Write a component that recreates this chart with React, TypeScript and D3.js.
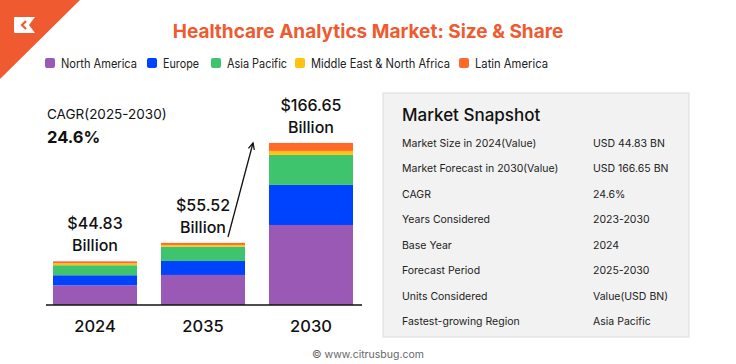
import * as d3 from 'd3';
import React, { useEffect, useRef } from 'react';

const years = ['2024', '2035', '2030'];
const regions = ['North America', 'Europe', 'Asia Pacific', 'Middle East & North Africa', 'Latin America'];
const colors = ['#9b59b6', '#0043ff', '#3ec46d', '#ffc20e', '#ff6a2b'];
// segment values per year, same order as regions (USD BN)
const northAmerica = [20.3, 30.9, 82.3];
const europe = [10.3, 14.4, 41.2];
const asiaPacific = [10.3, 14.7, 30.9];
const mena = [2.0, 1.8, 4.1];
const latinAmerica = [2.0, 2.1, 8.2];
const totalLabels = ['$44.83', '$55.52', '$166.65'];

const snapshotLabels = [
  'Market Size in 2024(Value)', 'Market Forecast in 2030(Value)', 'CAGR', 'Years Considered',
  'Base Year', 'Forecast Period', 'Units Considered', 'Fastest-growing Region',
];
const snapshotValues = [
  'USD 44.83 BN', 'USD 166.65 BN', '24.6%', '2023-2030', '2024', '2025-2030', 'Value(USD BN)', 'Asia Pacific',
];

const FONT = 'Inter, "Noto Sans", sans-serif';

function App() {
  const ref = useRef<SVGSVGElement>(null);

  useEffect(() => {
    const svg = d3.select(ref.current);
    svg.selectAll('*').remove();
    svg.style('font-family', FONT);

    const width = 736;
    const height = 364;

    svg.append('rect').attr('width', width).attr('height', height).attr('fill', '#fff');

    // corner logo
    svg.append('path').attr('d', 'M0,0 L80,0 L0,79 Z').attr('fill', '#f05a30');
    svg.append('path')
      .attr('d', 'M15,17 L35,17 L29,25 L35,33 L15,33 Q14,33 14,32 L14,18 Q14,17 15,17 Z')
      .attr('fill', '#fff');
    svg.append('path').attr('d', 'M26,21 L22,25 L26,29').attr('fill', 'none')
      .attr('stroke', '#f05a30').attr('stroke-width', 2.2);

    svg.append('text')
      .attr('x', 368).attr('y', 37.5).attr('text-anchor', 'middle')
      .attr('font-size', 19).attr('font-weight', 700).attr('fill', '#f05a30')
      .text('Healthcare Analytics Market: Size & Share');

    // legend
    const legendX = [45, 147, 211, 295, 459];
    const legendW = [76, 36, 60, 139, 73];
    const lg = svg.append('g');
    regions.forEach((r, i) => {
      lg.append('rect').attr('x', legendX[i]).attr('y', 58).attr('width', 10).attr('height', 10)
        .attr('rx', 2).attr('fill', colors[i]);
      lg.append('text').attr('x', legendX[i] + 16).attr('y', 67.5)
        .attr('font-size', 12.5).attr('fill', '#222')
        .attr('textLength', legendW[i]).attr('lengthAdjust', 'spacingAndGlyphs').text(r);
    });

    // stacked bars
    const table = years.map((y, i) => ({
      year: y,
      'North America': northAmerica[i],
      'Europe': europe[i],
      'Asia Pacific': asiaPacific[i],
      'Middle East & North Africa': mena[i],
      'Latin America': latinAmerica[i],
    }));
    const stack = d3.stack<any>().keys(regions)(table);

    const x = d3.scaleBand().domain(years).range([53, 353]).paddingInner(0.222).paddingOuter(0);
    const y = d3.scaleLinear().domain([0, 180]).range([305, 130]);

    const g = svg.append('g');
    stack.forEach((layer, li) => {
      g.selectAll(null).data(layer).enter().append('rect')
        .attr('x', d => x(d.data.year)!)
        .attr('width', x.bandwidth())
        .attr('y', d => y(d[1]))
        .attr('height', d => y(d[0]) - y(d[1]))
        .attr('fill', colors[li]);
    });

    g.append('line').attr('x1', 46).attr('x2', 362).attr('y1', 305).attr('y2', 305)
      .attr('stroke', '#111').attr('stroke-width', 1.5);

    const xAxis = g.append('g').attr('transform', 'translate(0,305)')
      .call(d3.axisBottom(x).tickSize(0).tickPadding(15));
    xAxis.select('.domain').remove();
    xAxis.selectAll('text').attr('font-size', 16.5).attr('font-weight', 500)
      .attr('font-family', FONT).attr('fill', '#111');

    // total labels
    years.forEach((yr, i) => {
      const total = stack[stack.length - 1][i][1];
      const cx = x(yr)! + x.bandwidth() / 2;
      const top = y(total);
      g.append('text').attr('x', cx).attr('y', top - 32).attr('text-anchor', 'middle')
        .attr('font-size', 16).attr('font-weight', 500).attr('fill', '#111').text(totalLabels[i]);
      g.append('text').attr('x', cx).attr('y', top - 10).attr('text-anchor', 'middle')
        .attr('font-size', 16).attr('font-weight', 500).attr('fill', '#111').text('Billion');
    });

    // CAGR text + arrow
    svg.append('text').attr('x', 47).attr('y', 119).attr('font-size', 13.5).attr('fill', '#111')
      .text('CAGR(2025-2030)');
    svg.append('text').attr('x', 47).attr('y', 143).attr('font-size', 16.5).attr('font-weight', 700)
      .attr('fill', '#111').text('24.6%');

    const ax0 = 228, ay0 = 237, ax1 = 253, ay1 = 143;
    svg.append('line').attr('x1', ax0).attr('y1', ay0).attr('x2', ax1).attr('y2', ay1)
      .attr('stroke', '#111').attr('stroke-width', 1.3);
    const ang = Math.atan2(ay1 - ay0, ax1 - ax0);
    const hl = 7;
    const p1 = [ax1 - hl * Math.cos(ang - 0.45), ay1 - hl * Math.sin(ang - 0.45)];
    const p2 = [ax1 - hl * Math.cos(ang + 0.45), ay1 - hl * Math.sin(ang + 0.45)];
    svg.append('path').attr('d', `M${p1[0]},${p1[1]} L${ax1},${ay1} L${p2[0]},${p2[1]}`)
      .attr('fill', 'none').attr('stroke', '#111').attr('stroke-width', 1.3);

    // snapshot panel
    const panel = svg.append('g');
    panel.append('rect').attr('x', 383).attr('y', 93).attr('width', 306).attr('height', 244)
      .attr('fill', '#f2f2f2').attr('stroke', '#dcdcdc');
    panel.append('text').attr('x', 402).attr('y', 121).attr('font-size', 17).attr('font-weight', 500)
      .attr('fill', '#111').text('Market Snapshot');
    const rowY = d3.scalePoint().domain(snapshotLabels).range([143, 321]);
    snapshotLabels.forEach((l, i) => {
      panel.append('text').attr('x', 402).attr('y', rowY(l)! + 4).attr('font-size', 10.5)
        .attr('fill', '#222').text(l);
      panel.append('text').attr('x', 593).attr('y', rowY(l)! + 4).attr('font-size', 10.5)
        .attr('fill', '#222').text(snapshotValues[i]);
    });

    svg.append('text').attr('x', 368).attr('y', 358).attr('text-anchor', 'middle')
      .attr('font-size', 10.5).attr('fill', '#666').text('©  www.citrusbug.com');
  }, []);

  return <svg ref={ref} width={736} height={364} style={{ position: 'absolute', left: 0, top: 0 }}></svg>;
}

export default App;
